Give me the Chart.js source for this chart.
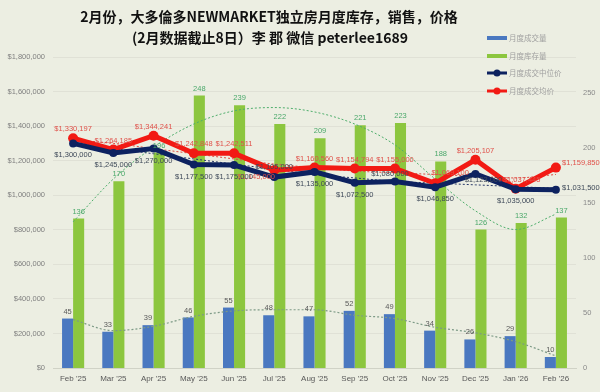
<!DOCTYPE html>
<html>
<head>
<meta charset="utf-8">
<script src="https://cdn.jsdelivr.net/npm/chart.js@4/dist/chart.umd.min.js"></script>
<style>
  html, body { margin: 0; padding: 0; background: #eceee2; }
  #wrap { width: 600px; height: 392px; }
</style>
</head>
<body>
<div id="wrap"><canvas id="chart" width="600" height="392"></canvas></div>
<script>
const months = ["Feb '25", "Mar '25", "Apr '25", "May '25", "Jun '25", "Jul '25", "Aug '25",
  "Sep '25", "Oct '25", "Nov '25", "Dec '25", "Jan '26", "Feb '26"];
const sales = [45, 33, 39, 46, 55, 48, 47, 52, 49, 34, 26, 29, 10];
const inventory = [136, 170, 196, 248, 239, 222, 209, 221, 223, 188, 126, 132, 137];
const medianPrice = [1300000, 1245000, 1270000, 1177500, 1175000, 1105000, 1135000,
  1072500, 1080000, 1046850, 1123000, 1035000, 1031500];
const avgPrice = [1330197, 1264185, 1344241, 1242848, 1242511, 1145000, 1160560,
  1154794, 1155000, 1069100, 1205107, 1037445, 1159850];
// trendlines
const salesTrend = [44, 34, 38, 47, 52, 53, 53, 48, 45, 37, 32, 24, 11];
const inventoryTrend = [133, 172, 201, 222, 234, 237, 233, 222, 203, 172, 143, 126, 140];
const medianTrend = [1300000, 1270000, 1240000, 1210000, 1180000, 1150000, 1120000,
  1100000, 1080000, 1070000, 1060000, 1050000, 1040000];
const avgTrend = [1320000, 1300000, 1270000, 1240000, 1210000, 1180000, 1160000,
  1140000, 1130000, 1120000, 1110000, 1100000, 1120000];
const leftTicks = [0, 200000, 400000, 600000, 800000, 1000000, 1200000, 1400000, 1600000, 1800000];
const rightTicks = [0, 50, 100, 150, 200, 250];
const legendNames = ['月度成交量', '月度库存量', '月度成交中位价', '月度成交均价'];

const BLUE = '#4a78c0';
const GREEN = '#8cc63f';
const NAVY = '#0d2260';
const RED = '#f21a14';
const FONT = '"Liberation Sans", Arial, sans-serif';

const money = v => '$' + v.toLocaleString('en-US');

const bgPlugin = {
  id: 'bg',
  beforeDraw(chart) {
    const ctx = chart.ctx;
    ctx.save();
    ctx.fillStyle = '#eceee2';
    ctx.fillRect(0, 0, chart.width, chart.height);
    ctx.restore();
  }
};

const labelPlugin = {
  id: 'valueLabels',
  afterDatasetsDraw(chart) {
    const ctx = chart.ctx;
    ctx.save();
    ctx.font = '7.5px ' + FONT;
    ctx.textAlign = 'center';
    ctx.textBaseline = 'middle';
    chart.data.datasets.forEach((ds, i) => {
      if (!ds.labelColor) return;
      const meta = chart.getDatasetMeta(i);
      meta.data.forEach((el, j) => {
        const v = ds.data[j];
        const text = ds.isMoney ? money(v) : String(v);
        const shift = (ds.labelShift && ds.labelShift[j]) || [0, ds.labelDy];
        ctx.fillStyle = ds.labelColor;
        ctx.fillText(text, el.x + shift[0], el.y + shift[1]);
      });
    });
    ctx.restore();
  }
};

const titlePlugin = {
  id: 'titleLegend',
  afterDraw(chart) {
    const ctx = chart.ctx;
    ctx.save();
    ctx.fillStyle = '#111';
    ctx.textAlign = 'center';
    ctx.textBaseline = 'middle';
    ctx.font = 'bold 14px "Noto Sans CJK SC", sans-serif';
    ctx.fillText('2月份，大多倫多NEWMARKET独立房月度库存，销售，价格', 269, 17);
    ctx.fillText('(2月数据截止8日）李 郡 微信 peterlee1689', 270, 38);

    // legend
    const colors = [BLUE, GREEN, NAVY, RED];
    const ys = [38, 56, 73, 91];
    ctx.font = '7.5px "Noto Sans CJK SC", sans-serif';
    ctx.textAlign = 'left';
    legendNames.forEach((name, k) => {
      const y = ys[k];
      ctx.strokeStyle = colors[k];
      ctx.lineWidth = k < 2 ? 4 : 3;
      ctx.beginPath();
      ctx.moveTo(487, y);
      ctx.lineTo(507, y);
      ctx.stroke();
      if (k >= 2) {
        ctx.fillStyle = colors[k];
        ctx.beginPath();
        ctx.arc(497, y, 3.5, 0, Math.PI * 2);
        ctx.fill();
      }
      ctx.fillStyle = '#a0a0a0';
      ctx.fillText(name, 509, y);
    });
    ctx.restore();
  }
};

new Chart(document.getElementById('chart'), {
  data: {
    labels: months,
    datasets: [
      {
        type: 'line', label: legendNames[3], data: avgPrice, yAxisID: 'y', order: 1,
        borderColor: RED, backgroundColor: RED, borderWidth: 5,
        pointRadius: 5, pointBackgroundColor: RED, pointBorderWidth: 0,
        labelColor: '#e0514a', isMoney: true, labelDy: -9,
        labelShift: { 5: [-18, 7], 9: [15, -10], 11: [6, -9], 12: [25, -5] }
      },
      {
        type: 'line', label: legendNames[2], data: medianPrice, yAxisID: 'y', order: 0,
        borderColor: NAVY, backgroundColor: NAVY, borderWidth: 5,
        pointRadius: 4, pointBackgroundColor: NAVY, pointBorderWidth: 0,
        labelColor: '#3d4858', isMoney: true, labelDy: 12,
        labelShift: { 5: [0, -10], 8: [-5, -7], 10: [8, 6], 12: [25, -2] }
      },
      {
        type: 'line', data: avgTrend, yAxisID: 'y', order: 2,
        borderColor: '#e04a40', borderWidth: 1, borderDash: [2, 2],
        pointRadius: 0, cubicInterpolationMode: 'monotone'
      },
      {
        type: 'line', data: medianTrend, yAxisID: 'y', order: 2,
        borderColor: '#2a3a6a', borderWidth: 1, borderDash: [2, 2],
        pointRadius: 0, cubicInterpolationMode: 'monotone'
      },
      {
        type: 'line', data: inventoryTrend, yAxisID: 'y1', order: 2,
        borderColor: '#4fae6c', borderWidth: 1, borderDash: [2, 2],
        pointRadius: 0, cubicInterpolationMode: 'monotone'
      },
      {
        type: 'line', data: salesTrend, yAxisID: 'y1', order: 2,
        borderColor: '#7d9a86', borderWidth: 1.2, borderDash: [2, 2],
        pointRadius: 0, cubicInterpolationMode: 'monotone'
      },
      {
        type: 'bar', label: legendNames[0], data: sales, yAxisID: 'y1', order: 3,
        backgroundColor: BLUE, categoryPercentage: 0.55, barPercentage: 1.0,
        labelColor: '#595959', labelDy: -7
      },
      {
        type: 'bar', label: legendNames[1], data: inventory, yAxisID: 'y1', order: 3,
        backgroundColor: GREEN, categoryPercentage: 0.55, barPercentage: 1.0,
        labelColor: '#4aa86a', labelDy: -7
      }
    ]
  },
  options: {
    responsive: false,
    animation: false,
    layout: { padding: { top: 57, left: 0, right: 0, bottom: 0 } },
    plugins: {
      legend: { display: false },
      tooltip: { enabled: false }
    },
    scales: {
      x: {
        grid: { display: false, drawTicks: false },
        border: { display: true, color: '#d0d2c6' },
        ticks: { color: '#595959', font: { family: FONT, size: 8 }, maxRotation: 0, padding: 6 },
        afterFit: s => { s.height = 24; }
      },
      y: {
        position: 'left', min: 0, max: 1800000,
        afterBuildTicks: s => { s.ticks = leftTicks.map(v => ({ value: v })); },
        grid: { color: 'rgba(0,0,0,0.05)', drawTicks: false },
        border: { display: false },
        ticks: { color: '#7f7f7f', font: { family: FONT, size: 7.5 }, padding: 8, callback: v => money(v) },
        afterFit: s => { s.width = 53; }
      },
      y1: {
        position: 'right', min: 0, max: 283,
        afterBuildTicks: s => { s.ticks = rightTicks.map(v => ({ value: v })); },
        grid: { display: false, drawTicks: false },
        border: { display: false },
        ticks: { color: '#8a8a8a', font: { family: FONT, size: 7.5 }, padding: 7 },
        afterFit: s => { s.width = 24; }
      }
    }
  },
  plugins: [bgPlugin, labelPlugin, titlePlugin]
});
</script>
</body>
</html>
